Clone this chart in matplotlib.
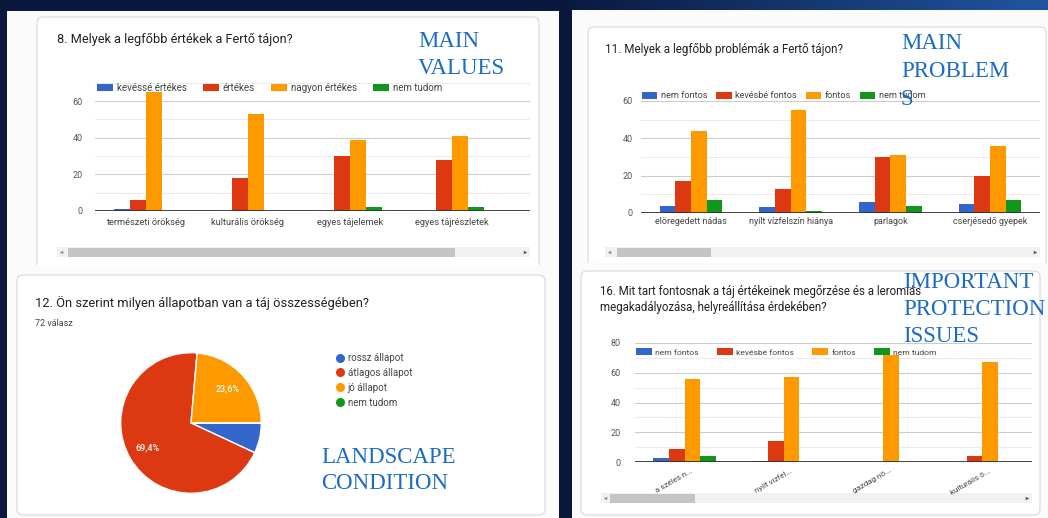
import matplotlib
matplotlib.use('Agg')
import matplotlib.pyplot as plt
import numpy as np
from matplotlib.patches import Rectangle, FancyBboxPatch
from matplotlib.lines import Line2D

plt.rcParams['font.family'] = ['Roboto', 'DejaVu Sans']

W, H = 1048, 518

# ---------------- data ----------------
# Panel 1: main values
values_title = "8. Melyek a legfőbb értékek a Fertő tájon?"
values_categories = ["természeti örökség", "kulturális örökség", "egyes tájelemek", "egyes tájrészletek"]
values_series = ["kevéssé értékes", "értékes", "nagyon értékes", "nem tudom"]
values_kevesse = [1, 0, 0, 0]
values_ertekes = [6, 18, 30, 28]
values_nagyon = [65, 53, 39, 41]
values_nemtudom = [0, 0, 2, 2]

# Panel 2: main problems
problem_title = "11. Melyek a legfőbb problémák a Fertő tájon?"
problem_categories = ["elöregedett nádas", "nyílt vízfelszín hiánya", "parlagok", "cserjésedő gyepek"]
problem_series = ["nem fontos", "kevésbé fontos", "fontos", "nem tudom"]
problem_nem_fontos = [4, 3, 6, 5]
problem_kevesbe = [17, 13, 30, 20]
problem_fontos = [44, 55, 31, 36]
problem_nemtudom = [7, 1, 4, 7]

# Panel 3: landscape condition
condition_title = "12. Ön szerint milyen állapotban van a táj összességében?"
condition_subtitle = "72 válasz"
condition_labels = ["rossz állapot", "átlagos állapot", "jó állapot", "nem tudom"]
condition_counts = [5, 50, 17, 0]

# Panel 4: protection issues
protect_title = ["16. Mit tart fontosnak a táj értékeinek megőrzése és a leromlás",
                 "megakadályozása, helyreállítása érdekében?"]
protect_categories = ["a széles n...", "nyílt vízfel...", "gazdag nö...", "kulturális ö..."]
protect_series = ["nem fontos", "kevésbé fontos", "fontos", "nem tudom"]
protect_nem_fontos = [3, 1, 0, 0]
protect_kevesbe = [9, 14, 0, 4]
protect_fontos = [56, 57, 72, 67]
protect_nemtudom = [4, 0, 0, 0]

COLORS = ['#3366cc', '#dc3912', '#ff9900', '#109618']
SERIF_BLUE = '#1a6bc4'
TITLE_COLOR = '#222222'
LABEL_COLOR = '#444444'

fig = plt.figure(figsize=(W / 100, H / 100), dpi=100)


def fx(x):
    return x / W


def fy(y):
    return 1 - y / H


def axes_px(left, top, right, bottom, **kw):
    return fig.add_axes([left / W, 1 - bottom / H, (right - left) / W, (bottom - top) / H], **kw)


# ---------------- background ----------------
bg = fig.add_axes([0, 0, 1, 1], zorder=-10)
bg.set_xlim(0, W)
bg.set_ylim(H, 0)
bg.axis('off')
img = np.zeros((H, W, 3))
base = np.array([10, 24, 62]) / 255
img[:, :] = base
top_blue = np.array([32, 86, 160]) / 255
xs = np.arange(W)
t = np.clip((xs - 560) / 488, 0, 1)
for yy in range(0, 12):
    img[yy, :] = base[None, :] * (1 - t[:, None]) + top_blue[None, :] * t[:, None]
bg.imshow(img, extent=(0, W, H, 0), aspect='auto', interpolation='bilinear')


def screen(x0, y0, x1, y1):
    bg.add_patch(Rectangle((x0, y0), x1 - x0, y1 - y0, facecolor='#fbfbfb', edgecolor='none'))


def card(x0, y0, x1, y1):
    bg.add_patch(FancyBboxPatch((x0, y0), x1 - x0, y1 - y0,
                                boxstyle="round,pad=0,rounding_size=6",
                                facecolor='white', edgecolor='#dcdcdc', lw=0.9))


screen(7, 11, 559, 266)
card(37, 17, 539, 290)
screen(572, 10, 1048, 263)
card(588, 27, 1046, 290)
screen(7, 265, 559, 518)
card(17, 275, 545, 515)
screen(572, 263, 1048, 518)
card(581, 271, 1040, 515)


def scrollbar(x0, x1, y0, y1, t0, t1):
    bg.add_patch(Rectangle((x0, y0), x1 - x0, y1 - y0, facecolor='#f1f1f1', edgecolor='none'))
    bg.add_patch(Rectangle((t0, y0 + 0.5), t1 - t0, y1 - y0 - 1, facecolor='#c4c4c4', edgecolor='none'))
    bg.plot([x0 + 4], [(y0 + y1) / 2], marker='<', ms=2.5, color='#888888', mec='none')
    bg.plot([x1 - 5], [(y0 + y1) / 2], marker='>', ms=2.5, color='#555555', mec='none')


scrollbar(57, 530, 247, 257, 68, 455)
scrollbar(605, 1040, 247, 257, 617, 711)
scrollbar(601, 1032, 493, 503, 610, 695)


# ---------------- bar panels ----------------
def bar_panel(ax, cats, names, series, ymax, major, minor, xright, width, pad):
    x = np.arange(len(cats))
    n = len(series)
    for i, (name, vals, col) in enumerate(zip(names, series, COLORS)):
        ax.bar(x + (i - (n - 1) / 2) * width, vals, width, color=col, label=name, zorder=3, lw=0)
    ax.set_xlim(-0.5, xright)
    ax.set_ylim(0, ymax)
    ax.set_yticks(major)
    ax.set_yticks(minor, minor=True)
    ax.grid(axis='y', which='major', color='#cccccc', lw=0.8, zorder=0)
    ax.grid(axis='y', which='minor', color='#ebebeb', lw=0.8, zorder=0)
    ax.axhline(0, color='#333333', lw=1.3, zorder=4)
    for s in ax.spines.values():
        s.set_visible(False)
    ax.tick_params(axis='both', which='both', length=0)
    ax.tick_params(axis='y', labelsize=6.5, labelcolor='#555555', pad=pad)
    ax.set_facecolor('none')
    return x


def legend_at(ax, x, y, fs, hl, hh, colspacing):
    ax.legend(ncol=4, loc='center left', bbox_to_anchor=(fx(x), fy(y)),
              bbox_transform=fig.transFigure, frameon=False, fontsize=fs,
              handlelength=hl, handleheight=hh, handletextpad=0.4,
              columnspacing=colspacing, borderpad=0, borderaxespad=0,
              labelcolor=LABEL_COLOR)


# Panel 1
ax1 = axes_px(95, 82.7, 530, 211, zorder=1)
x1 = bar_panel(ax1, values_categories, values_series,
               [values_kevesse, values_ertekes, values_nagyon, values_nemtudom],
               70, [0, 20, 40, 60], [10, 30, 50, 70], 3.765, 0.158, 9)
ax1.set_xticks(x1)
ax1.set_xticklabels(values_categories, fontsize=6.7, color=LABEL_COLOR)
ax1.tick_params(axis='x', pad=5)
legend_at(ax1, 97, 88, 7, 1.65, 0.72, 1.65)

# Panel 2
ax2 = axes_px(641, 101, 1040, 213, zorder=1)
x2 = bar_panel(ax2, problem_categories, problem_series,
               [problem_nem_fontos, problem_kevesbe, problem_fontos, problem_nemtudom],
               60, [0, 20, 40, 60], [10, 30, 50], 3.5, 0.157, 6)
ax2.set_xticks(x2)
ax2.set_xticklabels(problem_categories, fontsize=6.5, color=LABEL_COLOR)
ax2.tick_params(axis='x', pad=3)
legend_at(ax2, 642, 96, 6.6, 1.65, 0.76, 1.0)

# Panel 4
ax4 = axes_px(635, 343, 1032, 462, zorder=1)
x4 = bar_panel(ax4, protect_categories, protect_series,
               [protect_nem_fontos, protect_kevesbe, protect_fontos, protect_nemtudom],
               80, [0, 20, 40, 60, 80], [10, 30, 50, 70], 3.5, 0.157, 10)
ax4.set_xticks(x4 + 0.06)
ax4.set_xticklabels(protect_categories, fontsize=5.8, color=LABEL_COLOR,
                    rotation=30, ha='right', va='top', rotation_mode='anchor')
ax4.tick_params(axis='x', pad=4)
legend_at(ax4, 636, 352, 6.1, 1.9, 0.85, 2.1)

# Panel 3 (pie)
axp = axes_px(120, 352, 262, 494, zorder=1)


def pct_fmt(p):
    return ('%.1f%%' % p).replace('.', ',') if p >= 10 else ''


wedges, texts, autotexts = axp.pie(condition_counts, colors=COLORS, startangle=0, counterclock=False,
                                   radius=1, autopct=pct_fmt, pctdistance=0.71,
                                   wedgeprops=dict(edgecolor='white', linewidth=1),
                                   textprops=dict(color='white', fontsize=6.5, fontweight='medium'))
axp.set_xlim(-1.01, 1.01)
axp.set_ylim(-1.01, 1.01)
axp.set_aspect('equal')
axp.axis('off')
handles = [Line2D([], [], marker='o', ls='none', markerfacecolor=c, markeredgecolor='none', markersize=6.5)
           for c in COLORS]
axp.legend(handles, condition_labels, loc='upper left', bbox_to_anchor=(fx(336), fy(353)),
           bbox_transform=fig.transFigure, frameon=False, fontsize=7, labelcolor=LABEL_COLOR,
           handlelength=0.8, handletextpad=0.4, labelspacing=0.5, borderpad=0, borderaxespad=0)

# ---------------- titles ----------------
fig.text(fx(57), fy(40), values_title, fontsize=9.2, color=TITLE_COLOR, va='center', ha='left')
fig.text(fx(605), fy(49), problem_title, fontsize=8.4, color=TITLE_COLOR, va='center', ha='left')
fig.text(fx(35), fy(303), condition_title, fontsize=9.3, color=TITLE_COLOR, va='center', ha='left')
fig.text(fx(35), fy(324), condition_subtitle, fontsize=6.5, color=LABEL_COLOR, va='center', ha='left')
fig.text(fx(600), fy(292), protect_title[0], fontsize=8.3, color=TITLE_COLOR, va='center', ha='left')
fig.text(fx(600), fy(308), protect_title[1], fontsize=8.3, color=TITLE_COLOR, va='center', ha='left')


# ---------------- overlay annotations ----------------
def serif_lines(x, baselines, lines):
    for yb, s in zip(baselines, lines):
        fig.text(fx(x), fy(yb), s, fontsize=16.5, color=SERIF_BLUE, family='Liberation Serif',
                 va='baseline', ha='left', zorder=20)


serif_lines(418, [47, 74], ["MAIN", "VALUES"])
serif_lines(901, [49, 77, 105], ["MAIN", "PROBLEM", "S"])
serif_lines(321, [463, 489], ["LANDSCAPE", "CONDITION"])
serif_lines(903, [288, 315, 342], ["IMPORTANT", "PROTECTION", "ISSUES"])

fig.savefig('out.png', dpi=100)
